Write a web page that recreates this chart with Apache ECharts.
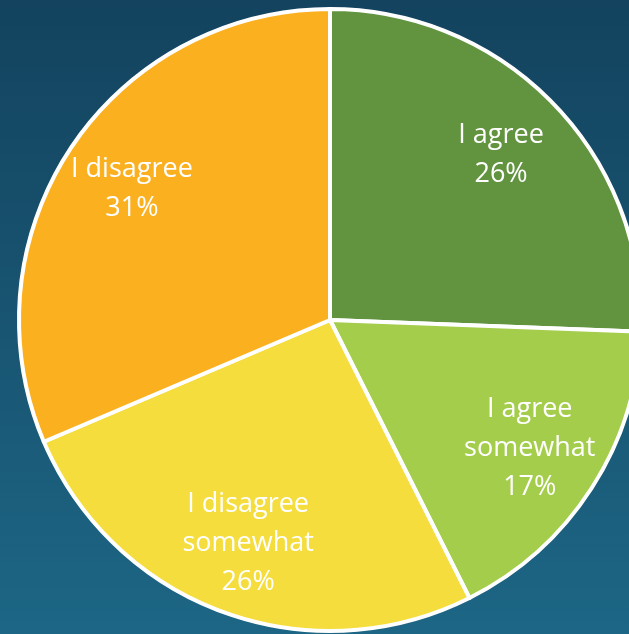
<!DOCTYPE html>
<html>
<head>
<meta charset="utf-8">
<script src="https://cdn.jsdelivr.net/npm/echarts@6/dist/echarts.min.js"></script>
<style>
    html, body { margin: 0; padding: 0; }
    #chart { width: 629px; height: 634px; }
</style>
</head>
<body>
<div id="chart"></div>
<script>
// 数据
const categories = ['I agree', 'I agree\nsomewhat', 'I disagree\nsomewhat', 'I disagree'];
const values = [25.6, 17.0, 26.0, 31.4];
const colors = ['#629440', '#a4cd4c', '#f4dd3c', '#fbb020'];

const pieData = categories.map((name, i) => ({
    name: name,
    value: values[i],
    itemStyle: { color: colors[i] }
}));

const chart = echarts.init(document.getElementById('chart'));
const option = {
    backgroundColor: {
        type: 'linear', x: 0, y: 0, x2: 0, y2: 1,
        colorStops: [
            { offset: 0, color: '#13435e' },
            { offset: 1, color: '#1d6685' }
        ]
    },
    animation: false,
    series: [
        {
            // 饼图本体
            type: 'pie',
            center: [330, 320],
            radius: 311,
            startAngle: 90,
            clockwise: true,
            silent: true,
            label: { show: false },
            labelLine: { show: false },
            itemStyle: { borderColor: '#ffffff', borderWidth: 4 },
            data: pieData
        },
        {
            // 透明环，用来把标签放到外侧
            type: 'pie',
            center: [330, 320],
            radius: [158, 311],
            startAngle: 90,
            clockwise: true,
            silent: true,
            itemStyle: { color: 'transparent', borderWidth: 0 },
            label: {
                show: true,
                position: 'inside',
                color: '#ffffff',
                fontFamily: 'Open Sans',
                fontSize: 27,
                lineHeight: 39,
                formatter: p => p.name + '\n' + Math.round(p.value) + '%'
            },
            labelLine: { show: false },
            data: categories.map((name, i) => ({ name: name, value: values[i] }))
        }
    ]
};
chart.setOption(option);
</script>
</body>
</html>
